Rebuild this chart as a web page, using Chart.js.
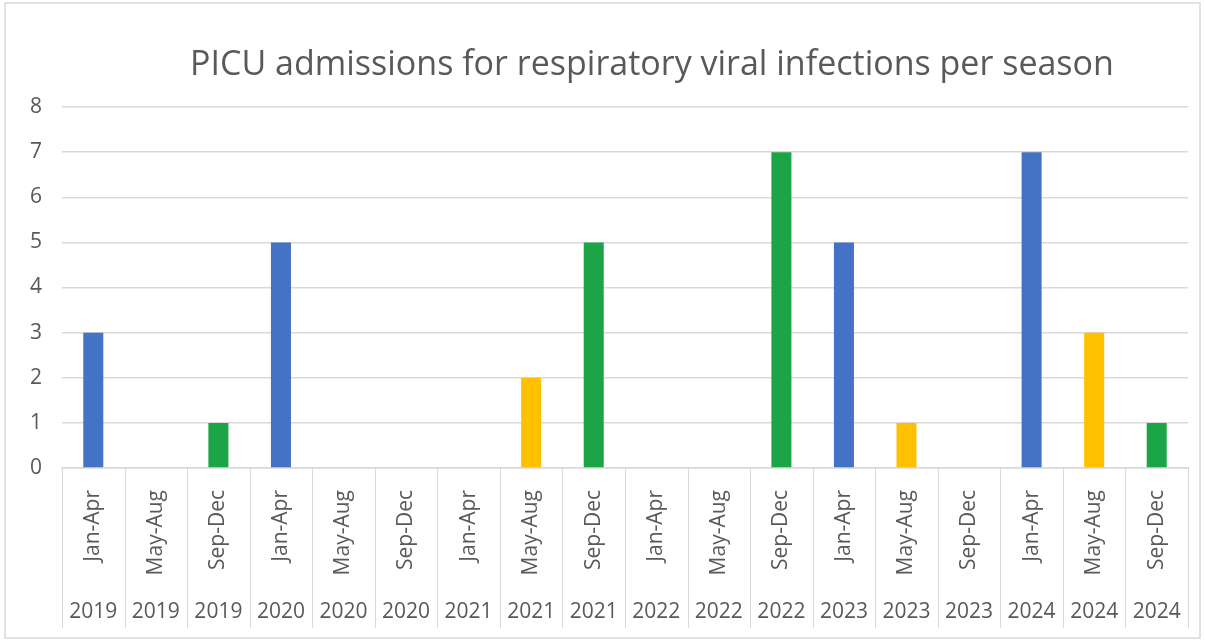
<!DOCTYPE html>
<html>
<head>
<meta charset="utf-8">
<script src="https://cdn.jsdelivr.net/npm/chart.js@4.4.1/dist/chart.umd.min.js"></script>
<style>
  html, body { margin: 0; padding: 0; background: #fff; }
  #wrap { width: 1205px; height: 642px; }
</style>
</head>
<body>
<div id="wrap"><canvas id="picuChart" width="1205" height="642"></canvas></div>
<script>
const seasons = ['Jan-Apr', 'May-Aug', 'Sep-Dec', 'Jan-Apr', 'May-Aug', 'Sep-Dec',
  'Jan-Apr', 'May-Aug', 'Sep-Dec', 'Jan-Apr', 'May-Aug', 'Sep-Dec',
  'Jan-Apr', 'May-Aug', 'Sep-Dec', 'Jan-Apr', 'May-Aug', 'Sep-Dec'];
const years = ['2019', '2019', '2019', '2020', '2020', '2020',
  '2021', '2021', '2021', '2022', '2022', '2022',
  '2023', '2023', '2023', '2024', '2024', '2024'];
const admissions = [3, 0, 1, 5, 0, 0, 0, 2, 5, 0, 0, 7, 5, 1, 0, 7, 3, 1];

const titleText = 'PICU admissions for respiratory viral infections per season';
const seasonColors = { 'Jan-Apr': '#4472C4', 'May-Aug': '#FFC000', 'Sep-Dec': '#1BA546' };
const textColor = '#595959';
const lineColor = '#d9d9d9';

// frame, title (excel puts it a bit right of centre) and category separators
const framePlugin = {
  id: 'frame',
  beforeDraw(chart) {
    const c = chart.ctx;
    c.save();
    c.strokeStyle = lineColor;
    c.lineWidth = 1.5;
    c.strokeRect(5, 3, chart.width - 10, chart.height - 7);
    c.fillStyle = textColor;
    c.font = '34px "Open Sans"';
    c.textAlign = 'center';
    c.textBaseline = 'middle';
    c.fillText(titleText, 652, 65);
    c.restore();
  },
  afterDraw(chart) {
    const c = chart.ctx;
    const x = chart.scales.x;
    const yr = chart.scales.year;
    c.save();
    c.strokeStyle = lineColor;
    c.lineWidth = 1;
    for (let i = 0; i <= seasons.length; i++) {
      const px = i < seasons.length
        ? x.getPixelForValue(i) - x.width / seasons.length / 2
        : x.right;
      c.beginPath();
      c.moveTo(Math.round(px) + 0.5, chart.chartArea.bottom);
      c.lineTo(Math.round(px) + 0.5, yr.bottom);
      c.stroke();
    }
    c.restore();
  }
};

new Chart(document.getElementById('picuChart').getContext('2d'), {
  type: 'bar',
  data: {
    labels: seasons,
    datasets: [{
      label: 'Admissions',
      data: admissions,
      backgroundColor: seasons.map(s => seasonColors[s]),
      barPercentage: 0.32,
      categoryPercentage: 1
    }]
  },
  options: {
    responsive: false,
    animation: false,
    layout: { padding: { left: 12, right: 17, top: 107, bottom: 14 } },
    plugins: {
      legend: { display: false },
      tooltip: { enabled: false },
      title: { display: false }
    },
    scales: {
      y: {
        min: 0,
        max: 8,
        ticks: {
          stepSize: 1,
          color: textColor,
          padding: 20,
          font: { family: 'Open Sans', size: 21 }
        },
        grid: { color: lineColor, lineWidth: 1.5, drawTicks: false },
        border: { display: false },
        afterFit(scale) { scale.width = 50; }
      },
      x: {
        ticks: {
          minRotation: 90,
          maxRotation: 90,
          color: textColor,
          padding: 14,
          font: { family: 'Open Sans', size: 21 }
        },
        grid: { display: false },
        border: { display: true, color: lineColor, width: 1.5 },
        afterFit(scale) { scale.height = 125; }
      },
      year: {
        type: 'category',
        position: 'bottom',
        labels: years,
        offset: true,
        ticks: {
          color: textColor,
          padding: 6,
          font: { family: 'Open Sans', size: 21 }
        },
        grid: { display: false, drawTicks: false },
        border: { display: false },
        afterFit(scale) { scale.height = 35; }
      }
    }
  },
  plugins: [framePlugin]
});
</script>
</body>
</html>
